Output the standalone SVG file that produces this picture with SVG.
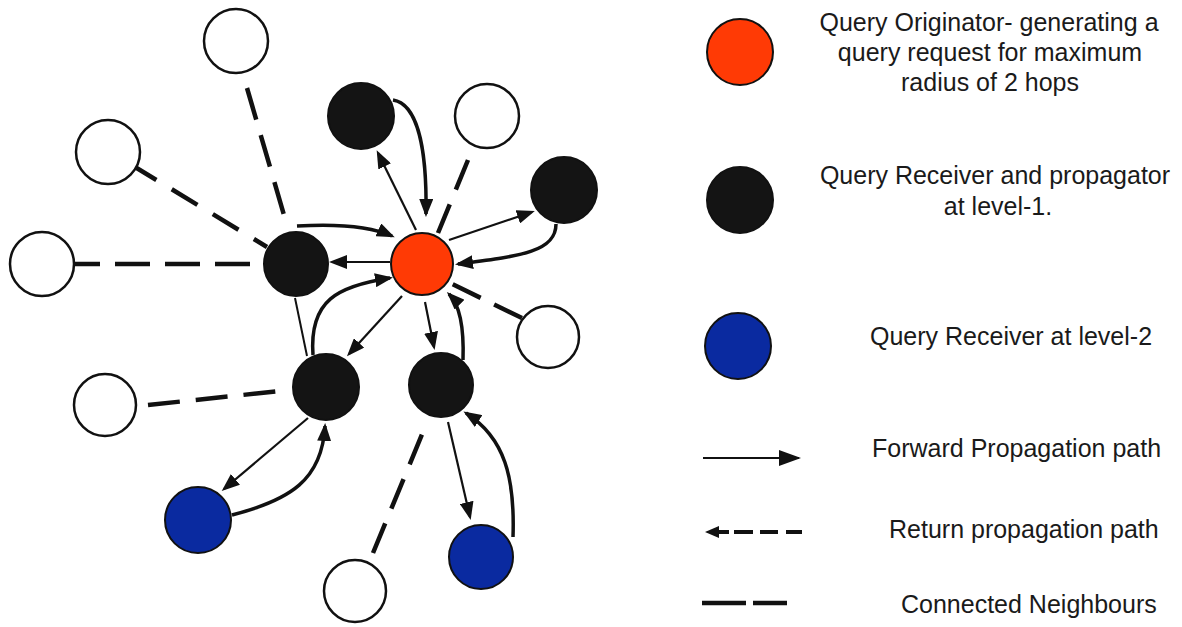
<svg xmlns="http://www.w3.org/2000/svg" width="1182" height="627" viewBox="0 0 1182 627">
  <defs>
    <style>
      .node { stroke: #111; stroke-width: 2; }
      .orig { fill: #ff3a05; }
      .lvl1 { fill: #141414; }
      .lvl2 { fill: #0a2aa0; }
      .peer { fill: #fff; stroke-width: 2.5; }
      .nb { fill: none; stroke: #111; stroke-width: 4.5; stroke-dasharray: 32 16; }
      .link { fill: none; stroke: #111; stroke-width: 2; }
      .fwd { fill: none; stroke: #111; stroke-width: 2.2; marker-end: url(#tip); }
      .ret { fill: none; stroke: #111; stroke-width: 3.5; marker-end: url(#tip); }
      .lbl { font-family: "Liberation Sans", Arial, sans-serif; font-size: 25px; fill: #1a1a1a; }
      .mid { text-anchor: middle; }
    </style>
    <marker id="tip" viewBox="0 0 18 14" refX="15" refY="7" markerWidth="18" markerHeight="14" markerUnits="userSpaceOnUse" orient="auto">
      <path d="M0,0 L18,7 L0,14 Z" fill="#111"/>
    </marker>
    <marker id="tipLg" viewBox="0 0 22 16" refX="20" refY="8" markerWidth="22" markerHeight="16" markerUnits="userSpaceOnUse" orient="auto">
      <path d="M0,0 L22,8 L0,16 Z" fill="#111"/>
    </marker>
  </defs>

  <rect width="1182" height="627" fill="#fff"/>

  <!-- connectors -->
  <g id="connectors">
    <!-- neighbour links -->
    <path class="nb" d="M74,264 L264,264" style="stroke-dasharray:35 15;stroke-dashoffset:9"/>
    <path class="nb" d="M135,167 L267,247" style="stroke-dasharray:30 18;stroke-dashoffset:5"/>
    <path class="nb" d="M247,88 L284,215" style="stroke-dasharray:33 16"/>
    <path class="nb" d="M468,160 L438,233"/>
    <path class="nb" d="M522,318 L450,283" style="stroke-dasharray:31 15"/>
    <path class="nb" d="M148,405 L280,391"/>
    <path class="nb" d="M373,553 L423,432"/>
    <path class="link" d="M295,298 L307,356"/>

    <!-- forward propagation -->
    <path class="fwd" d="M416,230 L378,153"/>
    <path class="fwd" d="M449,240 L532,212"/>
    <path class="fwd" d="M390,262 L332,262"/>
    <path class="fwd" d="M402,296 L349,354"/>
    <path class="fwd" d="M425,302 L434,347"/>
    <path class="fwd" d="M308,418 L224,489"/>
    <path class="fwd" d="M448,422 L470,517"/>

    <!-- return propagation -->
    <path class="ret" d="M393,100 C418,104 427,150 426,214"/>
    <path class="ret" d="M556,224 C556,252 520,256 458,264"/>
    <path class="ret" d="M297,226 C332,224 370,226 392,236"/>
    <path class="ret" d="M313,355 C309,300 338,286 390,278"/>
    <path class="ret" d="M463,360 C464,330 461,306 449,294"/>
    <path class="ret" d="M232,515 C290,500 322,480 325,426"/>
    <path class="ret" d="M513,537 C515,478 505,438 466,413"/>
  </g>

  <!-- nodes -->
  <g id="originator"><circle class="node orig" cx="422" cy="264" r="31"/></g>
  <g id="receiver-1a"><circle class="node lvl1" cx="361" cy="116" r="33"/></g>
  <g id="receiver-1b"><circle class="node lvl1" cx="564" cy="190" r="33"/></g>
  <g id="receiver-1c"><circle class="node lvl1" cx="296" cy="264" r="32"/></g>
  <g id="receiver-1d"><circle class="node lvl1" cx="326" cy="387" r="33"/></g>
  <g id="receiver-1e"><circle class="node lvl1" cx="441" cy="385" r="32"/></g>
  <g id="receiver-2a"><circle class="node lvl2" cx="198" cy="520" r="33"/></g>
  <g id="receiver-2b"><circle class="node lvl2" cx="481" cy="557" r="32"/></g>
  <g id="peer-1"><circle class="node peer" cx="236" cy="41" r="32"/></g>
  <g id="peer-2"><circle class="node peer" cx="108" cy="152" r="32"/></g>
  <g id="peer-3"><circle class="node peer" cx="42" cy="264" r="32"/></g>
  <g id="peer-4"><circle class="node peer" cx="487" cy="116" r="32"/></g>
  <g id="peer-5"><circle class="node peer" cx="548" cy="337" r="31"/></g>
  <g id="peer-6"><circle class="node peer" cx="105" cy="405" r="31"/></g>
  <g id="peer-7"><circle class="node peer" cx="355" cy="591" r="31"/></g>

  <!-- legend -->
  <g id="legend">
    <circle class="node orig" cx="740" cy="52" r="33"/>
    <text class="lbl mid" x="989" y="31">Query Originator- generating a</text>
    <text class="lbl mid" x="990" y="61">query request for maximum</text>
    <text class="lbl mid" x="990" y="91">radius of 2 hops</text>

    <circle class="node lvl1" cx="740" cy="200" r="33"/>
    <text class="lbl mid" x="995" y="184">Query Receiver and propagator</text>
    <text class="lbl mid" x="998" y="215">at level-1.</text>

    <circle class="node lvl2" cx="738" cy="346" r="33"/>
    <text class="lbl" x="870" y="345">Query Receiver at level-2</text>

    <path d="M703,458 L799,458" fill="none" stroke="#111" stroke-width="2" marker-end="url(#tipLg)"/>
    <text class="lbl" x="872" y="457">Forward Propagation path</text>

    <polygon points="705,532 719,526 719,538" fill="#111"/>
    <path d="M717,532 H729 M734,532 H753 M760,532 H778 M786,532 H802" fill="none" stroke="#111" stroke-width="4"/>
    <text class="lbl" x="889" y="538">Return propagation path</text>

    <path d="M702,603 H746 M753,603 H787" fill="none" stroke="#111" stroke-width="4.5"/>
    <text class="lbl" x="901" y="613">Connected Neighbours</text>
  </g>
</svg>
